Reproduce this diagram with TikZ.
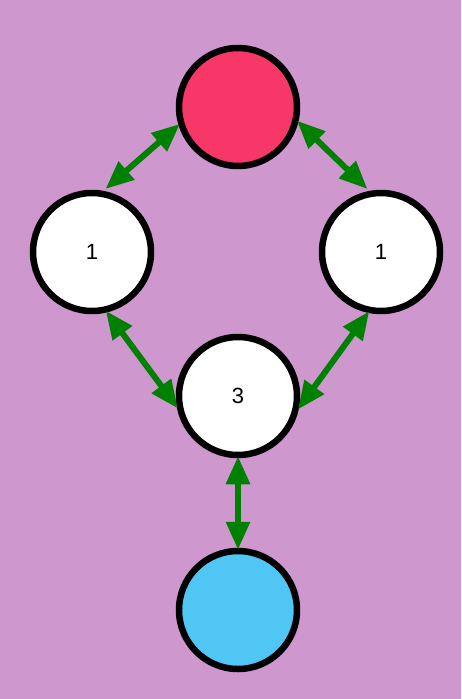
\documentclass[tikz,border=0pt]{standalone}
\usepackage{fontspec}
\setmainfont{Liberation Sans}
\usetikzlibrary{arrows.meta}
\definecolor{bgc}{RGB}{206,152,206}
\definecolor{redc}{RGB}{248,55,105}
\definecolor{bluec}{RGB}{80,198,245}
\definecolor{greenc}{RGB}{0,128,0}
\newcommand{\bignum}[1]{{\fontsize{22pt}{26pt}\selectfont #1}}
\tikzset{
  ball/.style={circle, draw=black, line width=6.5pt, minimum size=118pt, inner sep=0pt},
  link/.style={draw=greenc, line width=6pt, {Triangle[length=28pt,width=23pt]}-{Triangle[length=28pt,width=23pt]}, shorten <=-2pt, shorten >=-2pt}
}
\begin{document}
\begin{tikzpicture}[x=1pt,y=-1pt]
\fill[bgc] (0,0) rectangle (461,699);
\useasboundingbox (0,0) rectangle (461,699);
\node[ball, fill=redc] (top) at (238,107) {};
\node[ball, fill=white] (left) at (92,252) {\bignum{1}};
\node[ball, fill=white] (right) at (381,252) {\bignum{1}};
\node[ball, fill=white] (mid) at (238,396) {\bignum{3}};
\node[ball, fill=bluec] (bot) at (238,610) {};
\draw[link] (top.197) -- ([shift={(0,-4)}]left.76);
\draw[link] (top.-14) -- ([shift={(0,-4)}]right.104);
\draw[link] (left.-76) -- (mid.-170);
\draw[link] (right.-102) -- (mid.-11);
\draw[link] (mid.-90) -- (bot.90);
\end{tikzpicture}
\end{document}
